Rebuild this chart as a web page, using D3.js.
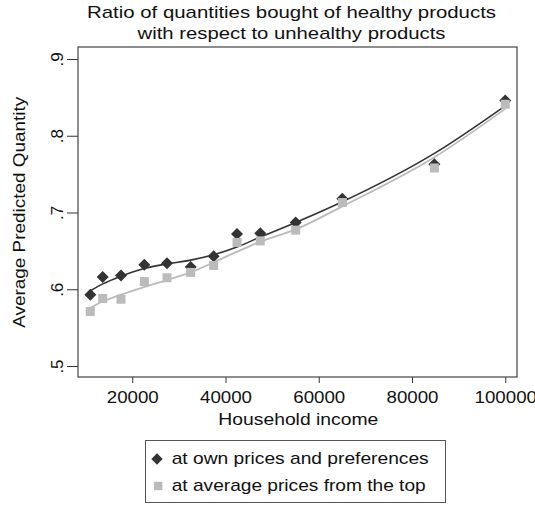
<!DOCTYPE html>
<html>
<head>
<meta charset="utf-8">
<script src="https://cdn.jsdelivr.net/npm/d3@7"></script>
<style>
  html, body { margin: 0; padding: 0; background: #fff; }
  svg { display: block; font-family: "Liberation Sans", Arial, Helvetica, sans-serif; }
</style>
</head>
<body>
<svg id="chart" width="535" height="506"></svg>
<script>
// ---- Data ----
const incomes = [11000, 13660, 17590, 22590, 27450, 32530, 37460, 42470, 47460, 55060, 65060, 84800, 100000];
const ownPrices = [0.593, 0.616, 0.618, 0.632, 0.634, 0.629, 0.643, 0.672, 0.673, 0.687, 0.718, 0.763, 0.846];
const avgPrices = [0.571, 0.588, 0.587, 0.610, 0.615, 0.622, 0.631, 0.661, 0.663, 0.677, 0.713, 0.758, 0.841];
const ownFit = [0.598, 0.607, 0.617, 0.627, 0.633, 0.638, 0.645, 0.655, 0.668, 0.687, 0.714, 0.777, 0.839];
const avgFit = [0.576, 0.584, 0.593, 0.603, 0.612, 0.622, 0.635, 0.649, 0.662, 0.678, 0.708, 0.772, 0.835];
const xTicks = [20000, 40000, 60000, 80000, 100000];
const yTicks = [0.5, 0.6, 0.7, 0.8, 0.9];
const titleLines = ["Ratio of quantities bought of healthy products", "with respect to unhealthy products"];
const legendLabels = ["at own prices and preferences", "at average prices from the top"];

// ---- Layout ----
const svg = d3.select("#chart");
const L = 78, R = 517, T = 47, B = 377;
const dark = "#333333", light = "#bbbbbb";
const FS = 17;

const x = d3.scaleLinear().domain([8365, 102520]).range([L, R]);
const y = d3.scaleLinear().domain([0.4857, 0.9156]).range([B, T]);

// Title
const titleWidths = [409, 308];
svg.append("g").selectAll("text").data(titleLines).join("text")
  .attr("x", 291.5).attr("y", (d, i) => 17.5 + i * 21.5)
  .attr("text-anchor", "middle").attr("font-size", FS).attr("fill", "#111")
  .attr("textLength", (d, i) => titleWidths[i]).attr("lengthAdjust", "spacingAndGlyphs")
  .text(d => d);

// Axes
const xAxis = svg.append("g").attr("transform", `translate(0,${B})`)
  .call(d3.axisBottom(x).tickValues(xTicks).tickSize(6).tickFormat(d3.format("d")));
xAxis.select(".domain").remove();
xAxis.selectAll("line").attr("stroke", "#333");
xAxis.selectAll("text").attr("font-size", FS).attr("fill", "#111")
  .attr("font-family", "Liberation Sans, Arial, sans-serif")
  .attr("y", 26.3).attr("dy", null)
  .attr("textLength", d => String(d).length * 10.4).attr("lengthAdjust", "spacingAndGlyphs");

const yAxis = svg.append("g").attr("transform", `translate(${L},0)`)
  .call(d3.axisLeft(y).tickValues(yTicks).tickSize(11).tickFormat(d => d3.format(".1f")(d).replace(/^0/, "")));
yAxis.select(".domain").remove();
yAxis.selectAll("line").attr("stroke", "#333");
yAxis.selectAll("text")
  .attr("font-size", FS).attr("fill", "#111")
  .attr("font-family", "Liberation Sans, Arial, sans-serif")
  .attr("x", null).attr("dy", null)
  .attr("text-anchor", "middle")
  .attr("transform", "translate(-15,0) rotate(-90)");

// Plot frame
svg.append("rect").attr("x", L).attr("y", T).attr("width", R - L).attr("height", B - T)
  .attr("fill", "none").attr("stroke", "#444").attr("stroke-width", 1.2);

// Axis titles
svg.append("text").attr("x", 298.3).attr("y", 425).attr("text-anchor", "middle")
  .attr("font-size", FS).attr("fill", "#111")
  .attr("textLength", 160).attr("lengthAdjust", "spacingAndGlyphs").text("Household income");
svg.append("text").attr("transform", "translate(24.5,212.3) rotate(-90)").attr("text-anchor", "middle")
  .attr("font-size", FS).attr("fill", "#111")
  .attr("textLength", 231).attr("lengthAdjust", "spacingAndGlyphs").text("Average Predicted Quantity");

// Fitted lines
const line = d3.line().x(d => x(d[0])).y(d => y(d[1])).curve(d3.curveMonotoneX);
svg.append("path").datum(incomes.map((v, i) => [v, avgFit[i]]))
  .attr("d", line).attr("fill", "none").attr("stroke", light).attr("stroke-width", 1.8);
svg.append("path").datum(incomes.map((v, i) => [v, ownFit[i]]))
  .attr("d", line).attr("fill", "none").attr("stroke", dark).attr("stroke-width", 1.6);

// Markers: diamonds (own prices) drawn first, squares on top
svg.append("g").selectAll("path").data(incomes.map((v, i) => [v, ownPrices[i]])).join("path")
  .attr("d", d3.symbol().type(d3.symbolSquare).size(72)())
  .attr("transform", d => `translate(${x(d[0])},${y(d[1])}) rotate(45)`)
  .attr("fill", dark);
svg.append("g").selectAll("rect").data(incomes.map((v, i) => [v, avgPrices[i]])).join("rect")
  .attr("x", d => x(d[0]) - 4.5).attr("y", d => y(d[1]) - 4.5)
  .attr("width", 9).attr("height", 9).attr("fill", light);

// Legend
const legendWidths = [257, 254];
const lg = svg.append("g");
lg.append("rect").attr("x", 145.5).attr("y", 440.5).attr("width", 300).attr("height", 62)
  .attr("fill", "#fff").attr("stroke", "#555").attr("stroke-width", 1);
lg.append("path").attr("d", d3.symbol().type(d3.symbolSquare).size(64)())
  .attr("transform", "translate(157,459) rotate(45)").attr("fill", dark);
lg.append("rect").attr("x", 154).attr("y", 481.8).attr("width", 8.4).attr("height", 8.4).attr("fill", light);
lg.selectAll("text").data(legendLabels).join("text")
  .attr("x", 171.7).attr("y", (d, i) => 464 + i * 27)
  .attr("font-size", FS).attr("fill", "#111")
  .attr("textLength", (d, i) => legendWidths[i]).attr("lengthAdjust", "spacingAndGlyphs")
  .text(d => d);
</script>
</body>
</html>
